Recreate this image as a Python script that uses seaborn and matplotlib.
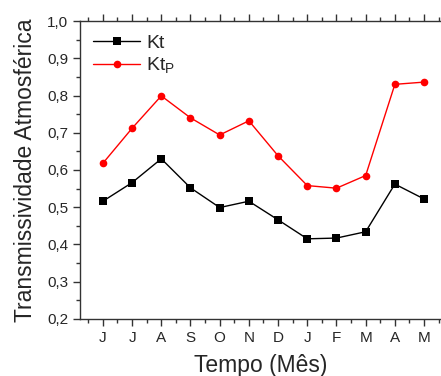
import numpy as np
import pandas as pd
import seaborn as sns
import matplotlib.pyplot as plt
from matplotlib.ticker import MultipleLocator, FuncFormatter

# ---------------- Data ----------------
months = ['J', 'J', 'A', 'S', 'O', 'N', 'D', 'J', 'F', 'M', 'A', 'M']
kt = [0.516, 0.566, 0.630, 0.552, 0.499, 0.516, 0.466, 0.415, 0.417, 0.434, 0.562, 0.522]
kt_p = [0.618, 0.712, 0.799, 0.740, 0.694, 0.732, 0.638, 0.558, 0.551, 0.585, 0.830, 0.836]

pos = np.arange(1, len(months) + 1)
df = pd.DataFrame({
    'Mes': np.concatenate([pos, pos]),
    'Valor': kt + kt_p,
    'Serie': ['Kt'] * len(kt) + ['Kt_P'] * len(kt_p),
})

# ---------------- Plot ----------------
sns.set_style('ticks')
plt.rcParams['font.family'] = ['Liberation Sans', 'DejaVu Sans']

fig = plt.figure(figsize=(4.41, 3.76), dpi=100)
ax = fig.add_axes([0.181, 0.152, 0.819, 0.792])

sns.lineplot(data=df, x='Mes', y='Valor', hue='Serie', style='Serie',
             palette={'Kt': 'black', 'Kt_P': 'red'},
             markers={'Kt': 's', 'Kt_P': 'o'}, dashes=False,
             markersize=5.5, markeredgewidth=0, linewidth=1, ax=ax)

ax.set_xlim(0.21, 12.58)
ax.set_ylim(0.2, 1.0)
ax.set_xticks(pos)
ax.set_xticklabels(months)
ax.xaxis.set_minor_locator(MultipleLocator(0.5))
ax.yaxis.set_major_locator(MultipleLocator(0.1))
ax.yaxis.set_minor_locator(MultipleLocator(0.05))
ax.yaxis.set_major_formatter(FuncFormatter(lambda v, p: f'{v:.1f}'.replace('.', ',')))

ax.tick_params(which='major', direction='out', length=5, width=1, labelsize=11,
               color='#333333', right=False)
ax.tick_params(which='minor', direction='out', length=3, width=1, color='#333333')
ax.tick_params(axis='x', which='both', top=True, labeltop=False)
for s in ax.spines.values():
    s.set_linewidth(1)
    s.set_color('#333333')
ax.spines['right'].set_visible(False)

ax.set_xlabel('Tempo (Mês)', fontsize=16.5, labelpad=7)
ax.set_ylabel('Transmissividade Atmosférica', fontsize=16.5, labelpad=7)

handles, labels = ax.get_legend_handles_labels()
ax.legend(handles, ['Kt', r'Kt$_\mathregular{P}$'], loc='upper left', frameon=False,
          fontsize=14, handlelength=2.4, handletextpad=0.3, labelspacing=0.2,
          borderaxespad=0.3, borderpad=0.4)

plt.savefig('out.png', dpi=100)
